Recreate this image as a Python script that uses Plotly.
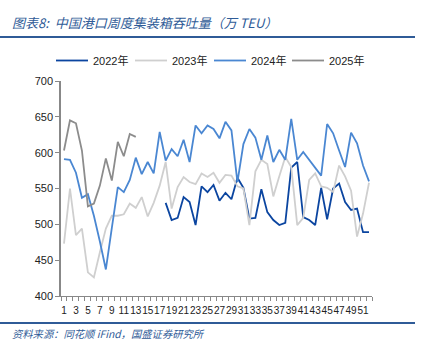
import plotly.graph_objects as go

weeks = list(range(1, 53))

y2022 = [None]*17 + [530, 506, 509, 538, 531, 499, 553, 545,
         555, 533, 544, 535, 565, 551, 508, 509, 549, 517, 506, 499, 502, 579,
         587, 510, 506, 499, 551, 507, 550, 557, 531, 520, 522, 489, 489]
y2023 = [473, 550, 485, 494, 433, 426, 461, 494, 512, 512, 514, 529, 523, 538,
         511, 530, 554, 587, 522, 552, 566, 559, 556, 571, 566,
         572, 558, 569, 568, 553, 550, 499, 574, 590, 584, 539, 567, 594, 580,
         499, 509, 562, 571, 553, 551, 545, 582, 567, 547, 483, 515, 558]
y2024 = [591, 590, 572, 537, 542, 512, 476, 437, 495, 552, 545, 562, 593, 570,
         587, 571, 629, 589, 605, 595, 618, 587, 638, 627, 638,
         633, 620, 643, 631, 559, 612, 633, 621, 590, 624, 587, 604, 590, 647,
         590, 601, 590, 579, 568, 640, 627, 603, 580, 628, 613, 582, 560]
y2025 = [603, 645, 641, 603, 525, 529, 554, 592, 561, 615, 595, 626, 622]

series = [
    ("2022年", y2022, "#0B45A0"),
    ("2023年", y2023, "#CFCFCF"),
    ("2024年", y2024, "#4A87D2"),
    ("2025年", y2025, "#8C8C8C"),
]

L, R, T, B = 61, 53, 81, 50
W, H = 425, 346
PW, PH = W - L - R, H - T - B


def px(x):
    return (x - L) / PW


def py(y):
    return 1 - (y - T) / PH


fig = go.Figure()
for name, vals, color in series:
    fig.add_trace(go.Scatter(x=weeks[:len(vals)], y=vals, mode="lines", name=name,
                             line=dict(color=color, width=1.8), connectgaps=False,
                             showlegend=False))

axis_font = dict(family="Liberation Sans, Arial", size=11, color="#222222")
fig.update_layout(
    width=W, height=H,
    margin=dict(l=L, r=R, t=T, b=B),
    paper_bgcolor="white", plot_bgcolor="white",
    showlegend=False,
    xaxis=dict(range=[0.5, 52.5], tickmode="array", tickvals=list(range(1, 52, 2)),
               ticktext=[str(v) for v in range(1, 52, 2)], ticks="", tickangle=0,
               ticklabelstandoff=5,
               showline=True, linecolor="#888888", linewidth=1, showgrid=False,
               zeroline=False, tickfont=dict(family="Liberation Sans, Arial", size=10, color="#222222"),
               minor=dict(tickmode="linear", tick0=0.5, dtick=1, ticks="outside", ticklen=4,
                          tickcolor="#888888", showgrid=False)),
    yaxis=dict(range=[400, 700], dtick=50, ticks="outside", ticklen=4, tickcolor="#888888",
               showline=True, linecolor="#888888", linewidth=1.5, showgrid=False,
               zeroline=False, tickfont=axis_font),
    font=dict(family="Liberation Sans, Noto Sans CJK SC"),
)

# legend (drawn manually)
leg_x = [56, 135, 214, 292]
leg_y = 60.5
for (name, _, color), lx in zip(series, leg_x):
    fig.add_shape(type="line", xref="paper", yref="paper",
                  x0=px(lx), x1=px(lx + 32), y0=py(leg_y), y1=py(leg_y),
                  line=dict(color=color, width=1.8))
    fig.add_annotation(xref="paper", yref="paper", x=px(lx + 35), y=py(leg_y),
                       xanchor="left", yanchor="middle", showarrow=False, text=name,
                       font=dict(family="Liberation Sans, Noto Sans CJK SC", size=11, color="#222222"))

fig.add_annotation(xref="paper", yref="paper", x=px(10), y=py(23),
                   xanchor="left", yanchor="middle", showarrow=False,
                   text="<i>图表8:  中国港口周度集装箱吞吐量（万 TEU）</i>",
                   font=dict(family="Noto Sans CJK SC", size=13, color="#2F5B97"))
fig.add_annotation(xref="paper", yref="paper", x=px(10), y=py(333),
                   xanchor="left", yanchor="middle", showarrow=False,
                   text="<i>资料来源：同花顺 iFind，国盛证券研究所</i>",
                   font=dict(family="Noto Sans CJK SC", size=10.3, color="#2F5B97"))
fig.add_shape(type="line", xref="paper", yref="paper",
              x0=px(0), x1=px(415), y0=py(37), y1=py(37),
              line=dict(color="#2F5B97", width=2))
fig.add_shape(type="line", xref="paper", yref="paper",
              x0=px(0), x1=px(415), y0=py(323), y1=py(323),
              line=dict(color="#2F5B97", width=2))

fig.write_html("out.html")
